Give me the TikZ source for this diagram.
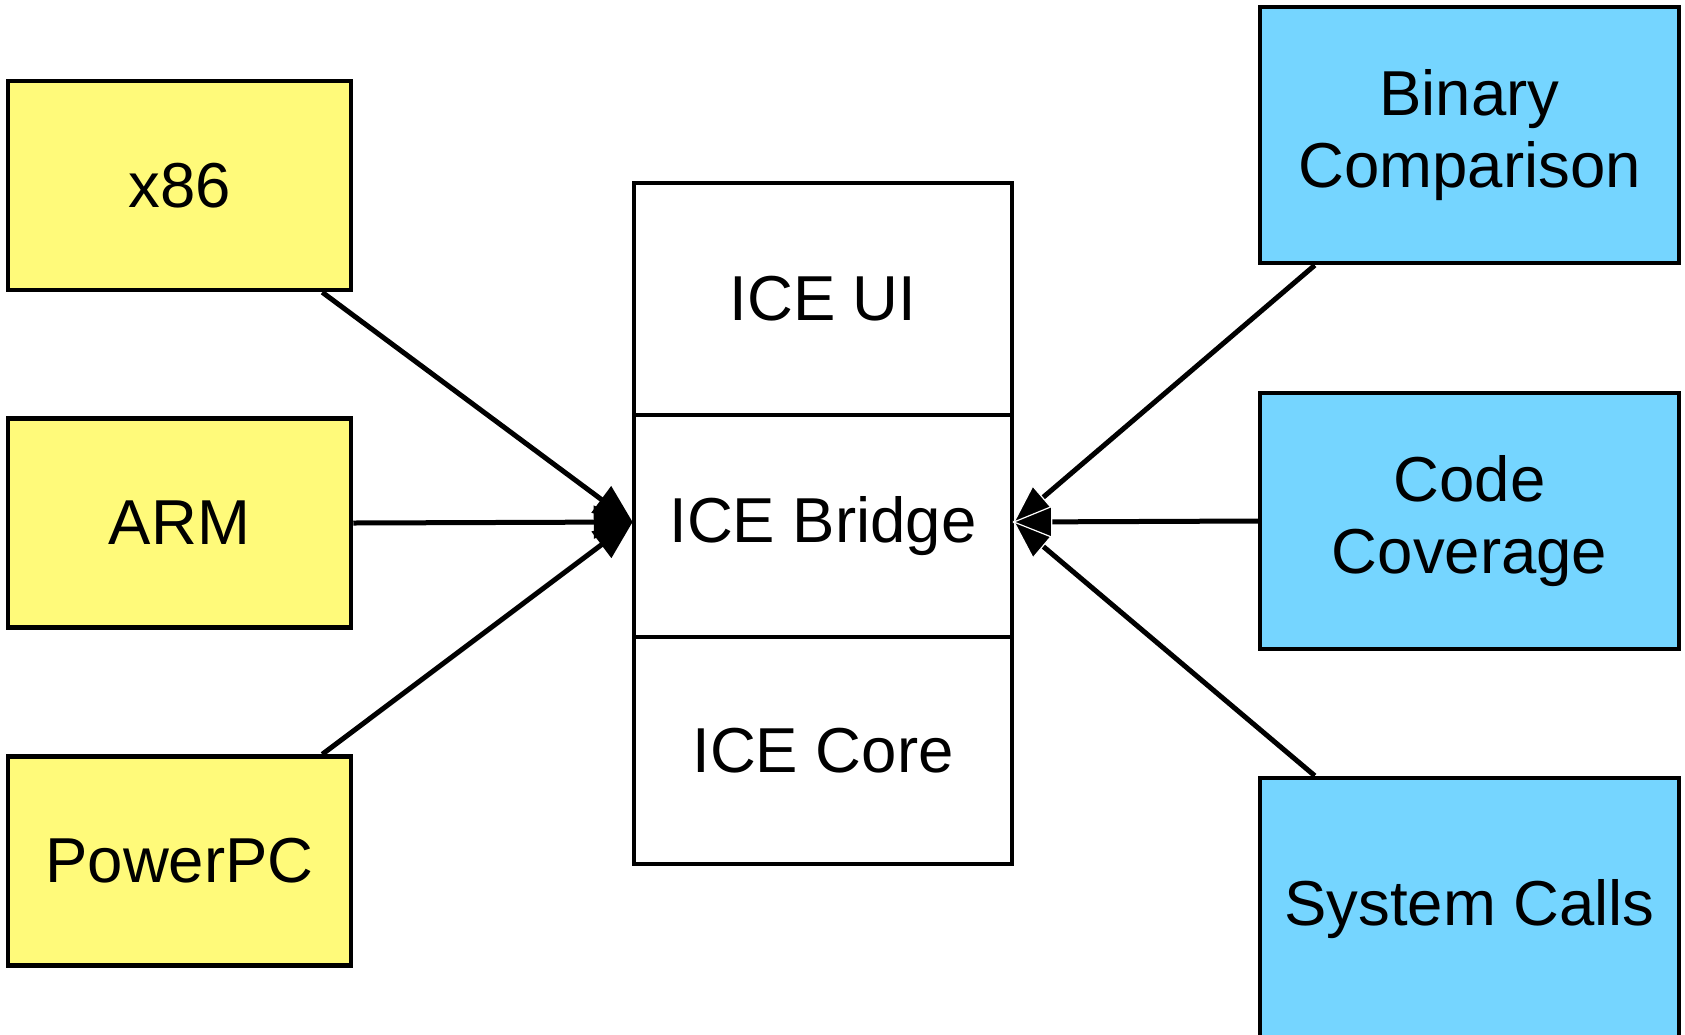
\documentclass[tikz,border=0pt]{standalone}
\usepackage{fontspec}
\setmainfont{Liberation Sans}
\usetikzlibrary{arrows.meta,calc}
\definecolor{archyellow}{RGB}{255,250,122}
\definecolor{toolblue}{RGB}{117,213,255}
\tikzset{
  box/.style={draw=black, line width=4.5pt, rectangle, inner sep=0pt, align=center,
    font=\fontsize{63.5}{72}\selectfont},
  arch/.style={box, fill=archyellow, minimum width=343pt, minimum height=209pt},
  tool/.style={box, fill=toolblue, minimum width=419pt},
  layer/.style={box, fill=white, minimum width=378pt},
  link/.style={line width=5pt, -{Triangle[length=40pt,width=32pt]}, shorten >=-2pt},
  rlink/.style={line width=5pt,
    -{Triangle[length=40pt,width=32pt,color=white,fill=black,line width=1.2pt]},
    shorten >=-2pt},
}
\begin{document}
\begin{tikzpicture}[x=1pt,y=-1pt]
  \useasboundingbox (0,0) rectangle (1685,1034);
  \clip (0,0) rectangle (1685,1034);
  \fill[white] (0,0) rectangle (1685,1034);

  % target architectures
  \node[arch] (x86) at (179.5,185.5) {x86};
  \node[arch] (arm) at (179.5,523) {ARM};
  \node[arch] (ppc) at (179.5,861) {PowerPC};

  % ICE layer stack
  \node[layer, minimum height=232pt] (ui) at (823,299) {ICE UI};
  \node[layer, minimum height=222pt] (bridge) at (823,526) {ICE Bridge};
  \node[layer, minimum height=227pt] (core) at (823,750.5) {ICE Core};

  % analysis tools
  \node[tool, minimum height=256pt] (bin) at (1469.5,135) {Binary\\Comparison};
  \node[tool, minimum height=256pt] (cov) at (1469.5,521) {Code\\Coverage};
  \node[tool, minimum height=262pt] (sys) at (1469.5,909) {System Calls};

  % connectors into the bridge
  \coordinate (bw) at ($(bridge.west)+(0,-4)$);
  \coordinate (be) at ($(bridge.east)+(0,-4)$);
  \draw[link] ($(x86.south east)+(-31,0)$) -- (bw);
  \draw[link] (arm.east) -- (bw);
  \draw[link] ($(ppc.north east)+(-31,0)$) -- (bw);
  \draw[rlink] ($(bin.south west)+(57,0)$) -- (be);
  \draw[rlink] ($(sys.north west)+(57,0)$) -- (be);
  \draw[rlink] (cov.west) -- (be);
\end{tikzpicture}
\end{document}
